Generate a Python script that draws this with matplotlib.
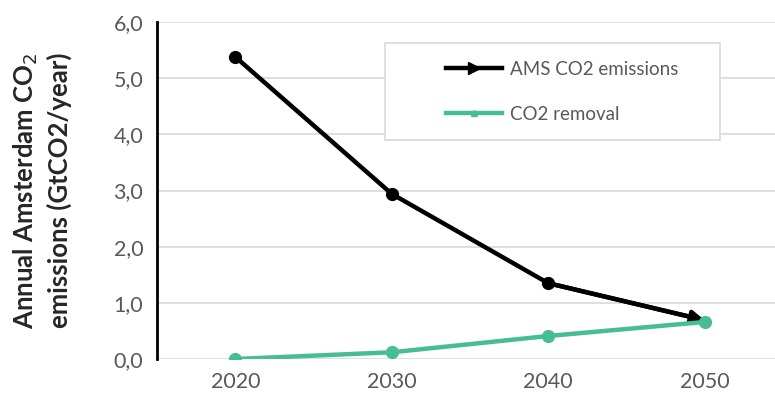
import matplotlib.pyplot as plt
from matplotlib.lines import Line2D
from matplotlib.patches import Rectangle
import numpy as np

# values
years = ['2020', '2030', '2040', '2050']
ams_emissions = [5.38, 2.94, 1.35, 0.69]
co2_removal = [0.0, 0.12, 0.41, 0.66]

black = '#000000'
green = '#47bd94'
grey_txt = '#595959'

plt.rcParams['font.family'] = ['Lato', 'DejaVu Sans']

fig = plt.figure(figsize=(7.75, 4.09), dpi=100)
ax = fig.add_axes([0.2026, 0.1222, 0.8077, 0.824])

x = np.arange(len(years))

# emissions line: markers on all but last point, arrow head at the end
ax.plot(x, ams_emissions, color=black, lw=3.2, marker='o', ms=8.5,
        markevery=[0, 1, 2], zorder=3, solid_capstyle='butt')
ax.annotate('', xy=(x[-1], ams_emissions[-1]), xytext=(x[-2], ams_emissions[-2]),
            arrowprops=dict(arrowstyle='-|>', color=black, lw=3.2,
                            mutation_scale=18, shrinkA=0, shrinkB=0),
            zorder=3)

ax.plot(x, co2_removal, color=green, lw=3.2, marker='o', ms=8.5, zorder=4)

ax.set_xlim(-0.5, 3.5)
ax.set_ylim(0, 6)
ax.set_xticks(x)
ax.set_xticklabels(years)
ax.set_yticks(np.arange(0, 7, 1))
ax.set_yticklabels([f'{v:.1f}'.replace('.', ',') for v in np.arange(0, 7, 1)])
ax.tick_params(axis='both', length=0, labelsize=15.5, colors=grey_txt)
ax.tick_params(axis='x', pad=9)
ax.tick_params(axis='y', pad=10)

ax.grid(axis='y', color='#d9d9d9', lw=1.2)
ax.set_axisbelow(True)
for s in ['top', 'right', 'bottom']:
    ax.spines[s].set_visible(False)
ax.spines['left'].set_color(black)
ax.spines['left'].set_linewidth(2)

ax.set_ylabel('Annual Amsterdam CO$_2$\nemissions (GtCO2/year)', fontsize=18.5,
              fontweight='bold', color='#262626', linespacing=1.3)
ax.yaxis.set_label_coords(-0.136, 0.5)

# legend box drawn separately so the entries can sit with a wide left margin
fig.patches.append(Rectangle((0.497, 0.658), 0.432, 0.237, transform=fig.transFigure,
                             facecolor='white', edgecolor='#d9d9d9', lw=1.2, zorder=5))

handles = [
    Line2D([], [], color=black, lw=3.2, marker='>', ms=9),
    Line2D([], [], color=green, lw=3.2, marker='^', ms=5),
]
leg = fig.legend(handles, ['AMS CO2 emissions', 'CO2 removal'],
                 loc='center left', bbox_to_anchor=(0.575, 0.776),
                 fontsize=13.5, frameon=False, borderpad=0,
                 labelspacing=1.5, handlelength=3.0, handletextpad=0.45,
                 borderaxespad=0)
leg.set_zorder(6)
for t in leg.get_texts():
    t.set_color(grey_txt)

fig.savefig('out.png', dpi=100)
